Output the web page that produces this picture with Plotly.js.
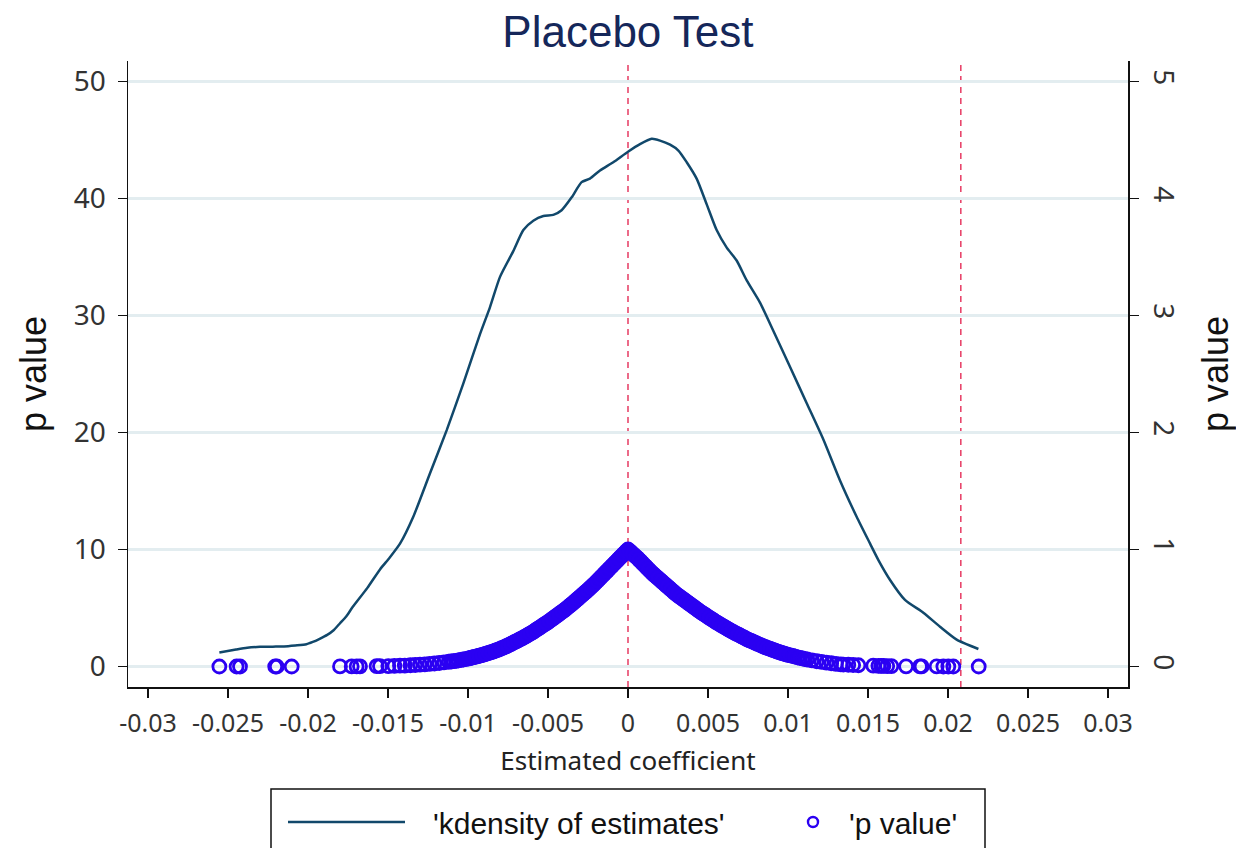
<!DOCTYPE html>
<html>
<head>
<meta charset="utf-8">
<script src="https://cdn.plot.ly/plotly-3.0.1.min.js"></script>
<style>
html,body{margin:0;padding:0;background:#fff;}
#chart{width:1236px;height:848px;}
</style>
</head>
<body>
<div id="chart"></div>
<script>
// ---- data ----
const chartTitle = "Placebo Test";
const xTitle = "Estimated coefficient";
const yTitle = "p value";
const legendNames = ["'kdensity of estimates'", "'p value'"];

// kernel density of the estimates (left axis)
const kdX = [-0.02554,-0.0245,-0.0238,-0.0230,-0.0222,-0.0215,-0.0208,-0.0201,-0.0197,-0.0193,-0.0188,-0.0184,-0.0180,-0.0176,-0.0172,-0.0163,-0.0155,-0.0149,-0.01425,-0.01342,-0.01238,-0.01133,-0.01029,-0.00925,-0.00863,-0.0080,-0.00717,-0.00654,-0.00592,-0.00529,-0.00467,-0.00415,-0.00352,-0.0029,-0.00238,-0.00175,-0.00092,0,0.00075,0.00148,0.0020,0.00263,0.00315,0.00367,0.00429,0.00492,0.00554,0.00617,0.00679,0.00742,0.00825,0.00908,0.01013,0.01117,0.01221,0.01325,0.01429,0.01513,0.01565,0.01638,0.01731,0.01846,0.0195,0.02054,0.0219];
const kdY = [1.2,1.45,1.6,1.68,1.7,1.72,1.8,1.9,2.1,2.35,2.7,3.1,3.7,4.3,5.1,6.7,8.3,9.3,10.5,12.8,16.5,20.2,24.2,28.4,30.7,33.3,35.5,37.3,38.1,38.5,38.6,39.0,40.1,41.4,41.7,42.4,43.1,44.0,44.65,45.1,44.95,44.6,44.1,43.1,41.7,39.5,37.3,35.8,34.7,33.0,31.1,28.7,25.6,22.5,19.4,15.9,12.8,10.5,9.1,7.4,5.7,4.6,3.4,2.3,1.5];

// p values of the placebo estimates (right axis)
const pvCoef = [-0.02554,-0.02446,-0.02425,-0.02205,-0.02195,-0.02102,-0.0180,-0.01727,-0.01696,-0.01675,-0.01571,-0.0155,-0.01498,-0.0146,-0.01425,-0.01395,
-0.0136,-0.0133,-0.0130,-0.0127,-0.0124,-0.0121,-0.0118,-0.0115,-0.0112,-0.0109,-0.0106,-0.0103,
-0.0100,-0.0098,-0.0096,-0.0094,-0.0092,-0.0090,-0.0088,-0.0086,-0.0084,-0.0082,-0.0080,-0.0078,-0.0076,-0.0074,-0.0072,-0.0070,-0.0068,-0.0066,-0.0064,-0.0062,-0.0060,-0.0058,-0.0056,-0.0054,-0.0052,-0.0050,-0.0048,-0.0046,-0.0044,-0.0042,-0.0040,-0.0038,-0.0036,-0.0034,-0.0032,-0.0030,-0.0028,-0.0026,-0.0024,-0.0022,-0.0020,-0.0018,-0.0016,-0.0014,-0.0012,-0.0010,-0.0008,-0.0006,-0.0004,-0.0002,0,
0.0002,0.0004,0.0006,0.0008,0.0010,0.0012,0.0014,0.0016,0.0018,0.0020,0.0022,0.0024,0.0026,0.0028,0.0030,0.0032,0.0034,0.0036,0.0038,0.0040,0.0042,0.0044,0.0046,0.0048,0.0050,0.0052,0.0054,0.0056,0.0058,0.0060,0.0062,0.0064,0.0066,0.0068,0.0070,0.0072,0.0074,0.0076,0.0078,0.0080,0.0082,0.0084,0.0086,0.0088,0.0090,0.0092,0.0094,0.0096,0.0098,0.0100,
0.0103,0.0106,0.0109,0.0112,0.0115,0.0118,0.0121,0.0124,0.0127,0.0130,0.0133,
0.01346,0.01377,0.01407,0.0144,0.01533,0.01565,0.01583,0.01596,0.0162,0.01646,0.01738,0.01825,0.01835,0.01929,0.01971,0.02002,0.02033,0.02192];
const pvValue = [0,0,0,0,0,0,0.001,0.001,0.001,0.002,0.003,0.003,0.004,0.005,0.007,0.008,
0.011,0.013,0.016,0.019,0.022,0.026,0.030,0.035,0.041,0.046,0.053,0.060,
0.068,0.075,0.082,0.089,0.096,0.103,0.112,0.121,0.130,0.140,0.150,0.162,0.174,0.187,0.201,0.215,0.229,0.243,0.258,0.274,0.290,0.308,0.326,0.344,0.362,0.380,0.400,0.420,0.440,0.460,0.480,0.502,0.524,0.547,0.571,0.595,0.619,0.643,0.668,0.694,0.720,0.748,0.776,0.804,0.832,0.860,0.888,0.916,0.944,0.972,1.0,
0.975,0.950,0.926,0.898,0.870,0.842,0.814,0.788,0.764,0.740,0.716,0.692,0.668,0.644,0.620,0.600,0.580,0.560,0.540,0.520,0.500,0.480,0.461,0.443,0.425,0.407,0.389,0.372,0.356,0.340,0.324,0.308,0.293,0.279,0.265,0.251,0.237,0.224,0.212,0.200,0.188,0.176,0.165,0.155,0.145,0.135,0.125,0.116,0.108,0.100,
0.090,0.079,0.069,0.060,0.052,0.045,0.039,0.033,0.028,0.023,0.019,
0.017,0.015,0.013,0.011,0.007,0.006,0.005,0.005,0.004,0.004,0.002,0.001,0.001,0.001,0,0,0,0];
// further estimates filling the dense central band
const pvCoefDense = [-0.01105,-0.01075,-0.01045,-0.01015,-0.0099,-0.0097,-0.0095,-0.0093,-0.0091,-0.0089,-0.0087,-0.0085,-0.0083,-0.0081,-0.0079,-0.0077,-0.0075,-0.0073,-0.0071,-0.0069,-0.0067,-0.0065,-0.0063,-0.0061,-0.0059,-0.0057,-0.0055,-0.0053,-0.0051,-0.0049,-0.0047,-0.0045,-0.0043,-0.0041,-0.0039,-0.0037,-0.0035,-0.0033,-0.0031,-0.0029,-0.0027,-0.0025,-0.0023,-0.0021,-0.0019,-0.0017,-0.0015,-0.0013,-0.0011,-0.0009,-0.0007,-0.0005,-0.0003,-0.0001,
0.0001,0.0003,0.0005,0.0007,0.0009,0.0011,0.0013,0.0015,0.0017,0.0019,0.0021,0.0023,0.0025,0.0027,0.0029,0.0031,0.0033,0.0035,0.0037,0.0039,0.0041,0.0043,0.0045,0.0047,0.0049,0.0051,0.0053,0.0055,0.0057,0.0059,0.0061,0.0063,0.0065,0.0067,0.0069,0.0071,0.0073,0.0075,0.0077,0.0079,0.0081,0.0083,0.0085,0.0087,0.0089,0.0091,0.0093,0.0095,0.0097,0.0099,0.01015,0.01045,0.01075,0.01105];
const pvValueDense = [0.043,0.049,0.056,0.064,0.071,0.078,0.085,0.092,0.099,0.107,0.116,0.125,0.135,0.145,0.156,0.168,0.180,0.194,0.208,0.222,0.236,0.250,0.266,0.282,0.299,0.317,0.335,0.353,0.371,0.390,0.410,0.430,0.450,0.470,0.491,0.513,0.535,0.559,0.583,0.607,0.631,0.655,0.681,0.707,0.734,0.762,0.790,0.818,0.846,0.874,0.902,0.930,0.958,0.986,
0.988,0.962,0.938,0.912,0.884,0.856,0.828,0.801,0.776,0.752,0.728,0.704,0.680,0.656,0.632,0.610,0.590,0.570,0.550,0.530,0.510,0.490,0.470,0.452,0.434,0.416,0.398,0.380,0.364,0.348,0.332,0.316,0.300,0.286,0.272,0.258,0.244,0.230,0.218,0.206,0.194,0.182,0.170,0.160,0.150,0.140,0.130,0.120,0.112,0.104,0.095,0.084,0.074,0.064];

// axis ticks
const xTickVals = [-0.03,-0.025,-0.02,-0.015,-0.01,-0.005,0,0.005,0.01,0.015,0.02,0.025,0.03];
const xTickText = ["-0.03","-0.025","-0.02","-0.015","-0.01","-0.005","0","0.005","0.01","0.015","0.02","0.025","0.03"];
const yTickVals = [0,10,20,30,40,50];
const y2TickVals = [0,1,2,3,4,5];
// reference lines
const refLineX = [0, 0.0208];
const refLineY = [0];

// ---- styling ----
const navy = "#11486b";
const blue = "#2b00f2";
const red = "#e8466c";
const tickFont = {family: "Noto Sans, DejaVu Sans, sans-serif", size: 25, color: "#333"};

const traces = [
  {x: kdX, y: kdY, type: "scatter", mode: "lines", name: legendNames[0],
   line: {color: navy, width: 2.5, shape: "spline", smoothing: 0.6}, yaxis: "y", showlegend: false},
  {x: pvCoef.concat(pvCoefDense), y: pvValue.concat(pvValueDense), type: "scatter", mode: "markers", name: legendNames[1],
   marker: {symbol: "circle-open", size: 13, color: blue, line: {color: blue, width: 2.8}},
   yaxis: "y2", showlegend: false}
];

const shapes = [];
refLineY.forEach(v => shapes.push({type: "line", xref: "paper", x0: 0, x1: 1, yref: "y", y0: v, y1: v,
  line: {color: red, width: 1.6, dash: "14px,9px"}, layer: "between"}));
refLineX.forEach(v => shapes.push({type: "line", xref: "x", x0: v, x1: v, yref: "paper", y0: 0, y1: 1,
  line: {color: red, width: 1.6, dash: "6px,5px"}, layer: "between"}));

// manual legend (paper coords: plot spans 128..1128 px, 61..687 px)
const L = 128, W = 1000, B = 687, H = 626;
const px = v => (v - L) / W, py = v => (B - v) / H;
shapes.push({type: "rect", xref: "paper", yref: "paper", x0: px(271), x1: px(985), y0: py(789), y1: py(870),
  line: {color: "#111", width: 1.5}, fillcolor: "rgba(0,0,0,0)"});
shapes.push({type: "line", xref: "paper", yref: "paper", x0: px(288), x1: px(405), y0: py(822), y1: py(822),
  line: {color: navy, width: 2.5}});
shapes.push({type: "circle", xref: "paper", yref: "paper", x0: px(808), x1: px(818), y0: py(827), y1: py(817),
  line: {color: blue, width: 2.4}});

const annotations = [
  {xref: "paper", yref: "paper", x: px(431), y: py(823), xanchor: "left", yanchor: "middle", showarrow: false,
   text: legendNames[0], font: {family: "Liberation Sans, Arial, sans-serif", size: 30, color: "#111"}},
  {xref: "paper", yref: "paper", x: px(847), y: py(823), xanchor: "left", yanchor: "middle", showarrow: false,
   text: legendNames[1], font: {family: "Liberation Sans, Arial, sans-serif", size: 30, color: "#111"}}
];

const axisCommon = {showline: true, linecolor: "#111", linewidth: 1.5, ticks: "outside", ticklen: 9,
  tickwidth: 1.5, tickcolor: "#111", zeroline: false, fixedrange: true};

const layout = {
  width: 1236, height: 848,
  margin: {l: 128, r: 108, t: 61, b: 161},
  paper_bgcolor: "#fff", plot_bgcolor: "#fff",
  showlegend: false,
  title: {text: chartTitle, x: 0.508, xanchor: "center", y: 0.963, yanchor: "middle",
    font: {family: "Liberation Sans, Arial, sans-serif", size: 44, color: "#15275a"}},
  xaxis: Object.assign({}, axisCommon, {
    range: [-0.03125, 0.03125], tickmode: "array", tickvals: xTickVals, ticktext: xTickText,
    showgrid: false, tickfont: tickFont, ticklabelstandoff: 4,
    title: {text: xTitle, standoff: 14, font: {family: "Noto Sans, DejaVu Sans, sans-serif", size: 26, color: "#222"}}
  }),
  yaxis: Object.assign({}, axisCommon, {
    range: [-1.75, 51.75], tickmode: "array", tickvals: yTickVals,
    showgrid: true, gridcolor: "#e3edf0", gridwidth: 2.5,
    tickfont: Object.assign({}, tickFont, {size: 28}), ticklabelstandoff: 6,
    title: {text: yTitle, standoff: 16, font: {family: "Liberation Sans, Arial, sans-serif", size: 36, color: "#111"}}
  }),
  yaxis2: Object.assign({}, axisCommon, {
    overlaying: "y", side: "right", anchor: "x",
    range: [-0.175, 5.175], tickmode: "array", tickvals: y2TickVals, tickangle: 90,
    showgrid: false, tickfont: Object.assign({}, tickFont, {size: 28}), ticklabelstandoff: 4,
    title: {text: yTitle, standoff: 20, font: {family: "Liberation Sans, Arial, sans-serif", size: 36, color: "#111"}}
  }),
  shapes: shapes,
  annotations: annotations
};

Plotly.newPlot("chart", traces, layout, {displayModeBar: false, staticPlot: true});
</script>
</body>
</html>
